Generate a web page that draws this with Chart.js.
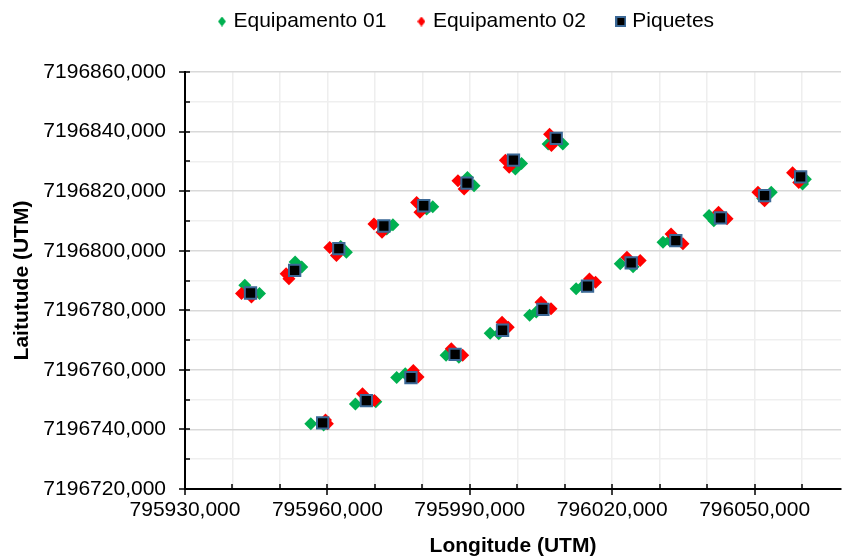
<!DOCTYPE html>
<html>
<head>
<meta charset="utf-8">
<title>Piquetes</title>
<script src="https://cdn.jsdelivr.net/npm/chart.js@4.4.1/dist/chart.umd.min.js"></script>
<style>
    body { margin: 0; background: #fff; }
    #wrap { width: 851px; height: 559px; position: relative; }
</style>
</head>
<body>
<div id="wrap"><canvas id="scatterChart"></canvas></div>
<script>
// two readings per stake for each GPS unit
const equip01X = [795942.6, 795945.7, 795954.6, 795953.2, 795964.0, 795962.8, 795973.8, 795972.5,
    795982.2, 795980.9, 795990.9, 795989.5, 796000.9, 795999.6, 796009.6, 796006.5,
    795956.5, 795959.2, 795965.9, 795970.2, 795974.6, 795976.4, 795985.0, 795987.7,
    795994.3, 795996.1, 796002.6, 796004.0, 796012.4, 796013.8, 796021.7, 796024.4,
    796030.7, 796032.1, 796040.4, 796041.4, 796053.5, 796051.7, 796060.7, 796060.1];
const equip01Y = [7196788.4, 7196785.6, 7196794.5, 7196796.2, 7196799.5, 7196801.4, 7196808.7, 7196807.3,
    7196814.8, 7196814.0, 7196821.8, 7196824.6, 7196829.3, 7196827.4, 7196835.8, 7196835.8,
    7196741.9, 7196741.5, 7196748.5, 7196749.3, 7196757.4, 7196758.7, 7196764.9, 7196764.2,
    7196772.3, 7196772.1, 7196778.3, 7196779.4, 7196787.2, 7196788.1, 7196795.6, 7196794.6,
    7196802.8, 7196803.4, 7196811.8, 7196810.1, 7196819.6, 7196817.5, 7196824.0, 7196822.4];

const equip02X = [795941.9, 795944.0, 795951.3, 795951.9, 795960.5, 795961.9, 795969.8, 795971.5,
    795978.8, 795979.5, 795987.5, 795988.8, 795997.5, 795998.3, 796006.8, 796007.2,
    795959.6, 795960.0, 795967.4, 795969.9, 795978.1, 795979.1, 795986.1, 795988.5,
    795998.1, 795996.8, 796007.1, 796005.0, 796016.5, 796015.2, 796025.9, 796023.1,
    796034.9, 796032.4, 796044.2, 796042.4, 796050.7, 796052.1, 796058.0, 796059.3];
const equip02Y = [7196785.6, 7196784.5, 7196792.3, 7196790.6, 7196801.1, 7196798.4, 7196809.0, 7196806.2,
    7196816.2, 7196812.9, 7196823.5, 7196820.7, 7196830.4, 7196828.0, 7196839.1, 7196835.3,
    7196743.2, 7196741.9, 7196752.0, 7196749.7, 7196759.8, 7196757.6, 7196767.1, 7196764.9,
    7196774.3, 7196776.0, 7196780.5, 7196782.7, 7196789.4, 7196790.5, 7196796.7, 7196797.8,
    7196802.3, 7196805.6, 7196810.7, 7196812.9, 7196819.6, 7196816.8, 7196826.2, 7196822.9];

const piqueteX = [795943.8, 795953.1, 795962.4, 795971.9, 795980.3, 795989.4, 795999.2, 796008.2,
    795959.0, 795968.2, 795977.6, 795986.9, 795996.9, 796005.4, 796014.8, 796024.0,
    796033.4, 796042.8, 796052.1, 796059.7];
const piqueteY = [7196785.8, 7196793.4, 7196800.7, 7196808.3, 7196815.1, 7196822.7, 7196830.4, 7196837.7,
    7196742.2, 7196749.7, 7196757.4, 7196765.2, 7196773.3, 7196780.3, 7196788.1, 7196795.9,
    7196803.4, 7196811.0, 7196818.5, 7196824.8];

const xLabelValues = [795930, 795960, 795990, 796020, 796050];
const yLabelValues = [7196720, 7196740, 7196760, 7196780, 7196800, 7196820, 7196840, 7196860];

function toPoints(xs, ys){
    return xs.map((x, i) => ({x: x, y: ys[i]}));
}

function fmt(v){
    return v.toFixed(3).replace('.', ',');
}

function isMajor(list, v){
    return list.includes(Math.round(v));
}

function makeIcon(w, h, draw){
    const c = document.createElement('canvas');
    c.width = w;
    c.height = h;
    draw(c.getContext('2d'));
    return c;
}

function diamondIcon(color){
    return makeIcon(8, 10, g => {
        g.fillStyle = color;
        g.beginPath();
        g.moveTo(4, 0);
        g.lineTo(8, 5);
        g.lineTo(4, 10);
        g.lineTo(0, 5);
        g.closePath();
        g.fill();
    });
}

const legendIcons = [
    diamondIcon('#00b050'),
    diamondIcon('#ff0000'),
    makeIcon(11, 11, g => {
        g.fillStyle = '#3b6896';
        g.fillRect(0, 0, 11, 11);
        g.fillStyle = '#000';
        g.fillRect(2, 2, 7, 7);
    })
];

// Excel style tick marks: long ones cross the axis, short ones sit inside
const axisTicks = {
    id: 'axisTicks',
    afterDraw(chart){
        const {ctx, chartArea: a, scales: {x, y}} = chart;
        ctx.save();
        ctx.strokeStyle = '#000';
        ctx.lineWidth = 1.5;
        ctx.beginPath();
        x.ticks.forEach(t => {
            const px = Math.round(x.getPixelForValue(t.value));
            ctx.moveTo(px, a.bottom - 5);
            ctx.lineTo(px, isMajor(xLabelValues, t.value) ? a.bottom + 6 : a.bottom);
        });
        y.ticks.forEach(t => {
            const py = Math.round(y.getPixelForValue(t.value));
            ctx.moveTo(isMajor(yLabelValues, t.value) ? a.left - 6 : a.left, py);
            ctx.lineTo(a.left + 5, py);
        });
        ctx.stroke();
        ctx.restore();
    }
};

// nudge the legend to where Excel put it
const legendShift = {
    id: 'legendShift',
    afterLayout(chart){
        const lg = chart.legend;
        lg.left += 42;
        lg.right += 42;
        lg.top -= 30;
        lg.bottom -= 30;
    }
};

Chart.defaults.font.family = "'Liberation Sans', Arial, sans-serif";
Chart.defaults.font.size = 21;
Chart.defaults.color = '#000';

new Chart(document.getElementById('scatterChart'), {
    type: 'scatter',
    data: {
        datasets: [
            {
                label: 'Equipamento 01',
                data: toPoints(equip01X, equip01Y),
                pointStyle: 'rectRot',
                pointRadius: 6.5,
                backgroundColor: '#00b050',
                borderColor: '#00b050',
                borderWidth: 0,
                order: 3
            },
            {
                label: 'Equipamento 02',
                data: toPoints(equip02X, equip02Y),
                pointStyle: 'rectRot',
                pointRadius: 6.5,
                backgroundColor: '#ff0000',
                borderColor: '#ff0000',
                borderWidth: 0,
                order: 2
            },
            {
                label: 'Piquetes',
                data: toPoints(piqueteX, piqueteY),
                pointStyle: 'rect',
                pointRadius: 8,
                backgroundColor: '#000000',
                borderColor: '#3b6896',
                borderWidth: 2,
                order: 1
            }
        ]
    },
    options: {
        responsive: true,
        maintainAspectRatio: false,
        animation: false,
        layout: { padding: { top: 7, right: 0, bottom: 0, left: 0 } },
        plugins: {
            tooltip: { enabled: false },
            legend: {
                position: 'top',
                labels: {
                    usePointStyle: true,
                    boxWidth: 2,
                    padding: 34,
                    color: '#000',
                    font: { size: 21 },
                    generateLabels(chart){
                        const items = Chart.defaults.plugins.legend.labels.generateLabels(chart);
                        items.sort((a, b) => a.datasetIndex - b.datasetIndex);
                        items.forEach(it => { it.pointStyle = legendIcons[it.datasetIndex]; });
                        return items;
                    }
                }
            }
        },
        scales: {
            x: {
                type: 'linear',
                min: 795930,
                max: 796068.2,
                afterFit(scale){ scale.height = 70; },
                border: { color: '#000', width: 2 },
                grid: {
                    color: '#eeeeee',
                    lineWidth: 1.5,
                    drawTicks: false
                },
                ticks: {
                    stepSize: 10,
                    includeBounds: false,
                    autoSkip: false,
                    maxRotation: 0,
                    padding: 9,
                    color: '#000',
                    callback: v => isMajor(xLabelValues, v) ? fmt(v) : ''
                },
                title: {
                    display: true,
                    text: 'Longitude (UTM)',
                    color: '#000',
                    font: { size: 21, weight: 'bold' },
                    padding: { top: 0, bottom: 0 }
                }
            },
            y: {
                type: 'linear',
                min: 7196720,
                max: 7196860,
                afterFit(scale){ scale.width = 185; },
                border: { color: '#000', width: 2 },
                grid: {
                    color: ctx => isMajor(yLabelValues, ctx.tick.value) ? '#d9d9d9' : '#efefef',
                    lineWidth: 1.5,
                    drawTicks: false
                },
                ticks: {
                    stepSize: 10,
                    maxTicksLimit: 100,
                    autoSkip: false,
                    padding: 19,
                    color: '#000',
                    callback: v => isMajor(yLabelValues, v) ? fmt(v) : ''
                },
                title: {
                    display: true,
                    text: 'Laitutude (UTM)',
                    color: '#000',
                    font: { size: 21, weight: 'bold' },
                    padding: { top: 10, bottom: 0 }
                }
            }
        }
    },
    plugins: [axisTicks, legendShift]
});
</script>
</body>
</html>
